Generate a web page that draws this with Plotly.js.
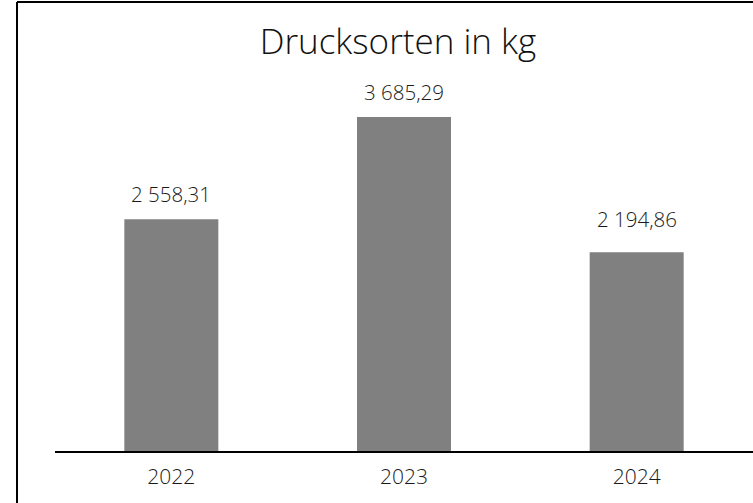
<!DOCTYPE html>
<html>
<head>
<meta charset="utf-8">
<script src="https://cdn.plot.ly/plotly-3.0.1.min.js"></script>
<style>
  html, body { margin: 0; padding: 0; background: #fff; }
  #chart { width: 753px; height: 503px; }
</style>
</head>
<body>
<div id="chart"></div>
<script>
const categories = ["2022", "2023", "2024"];
const values = [2558.31, 3685.29, 2194.86];
const valueLabels = ["2 558,31", "3 685,29", "2 194,86"];
const chartTitle = "Drucksorten in kg";

const FONT = "'Open Sans', Lato, sans-serif";

const trace = {
  type: "bar",
  x: categories,
  y: values,
  marker: { color: "#808080" },
  width: 0.404,
  hoverinfo: "none"
};

// label offsets above bar top (pixels), as placed in the reference
const labelOffsets = [9, 9, 17];

const annotations = categories.map((c, i) => ({
  x: i, y: values[i], xref: "x", yref: "y",
  text: valueLabels[i], showarrow: false,
  yanchor: "bottom", yshift: labelOffsets[i],
  font: { family: FONT, size: 20.5, color: "#1a1a1a", weight: 300 }
}));

const ml = 55, mt = 100, mb = 52, W = 753, H = 503;
const pw = W - ml, ph = H - mt - mb;
const fx = (17 - ml) / pw;
const fy = (H - mb - 2) / ph;

const layout = {
  width: W, height: H,
  margin: { l: ml, r: 0, t: mt, b: mb, pad: 0 },
  paper_bgcolor: "#fff", plot_bgcolor: "#fff",
  showlegend: false,
  title: {
    text: chartTitle, x: 398 / W, xref: "container", xanchor: "center",
    y: 1 - 42 / H, yref: "container", yanchor: "middle",
    font: { family: FONT, size: 35, color: "#111", weight: 300 }
  },
  xaxis: {
    type: "category",
    categoryorder: "array", categoryarray: categories,
    range: [-0.5, categories.length - 0.5], autorange: false,
    showline: true, linecolor: "#000", linewidth: 2,
    ticks: "", showgrid: false, zeroline: false,
    ticklabelstandoff: 6,
    tickfont: { family: FONT, size: 21, color: "#1a1a1a", weight: 300 }
  },
  yaxis: {
    range: [0, 3874], autorange: false, visible: false, showgrid: false, zeroline: false
  },
  annotations: annotations,
  shapes: [
    { type: "line", xref: "paper", yref: "paper", x0: fx, x1: fx, y0: -0.3, y1: fy,
      line: { color: "#000", width: 2 } },
    { type: "line", xref: "paper", yref: "paper", x0: fx, x1: 1.05, y0: fy, y1: fy,
      line: { color: "#000", width: 2 } }
  ]
};

Plotly.newPlot("chart", [trace], layout, { displayModeBar: false, staticPlot: true });
</script>
</body>
</html>
